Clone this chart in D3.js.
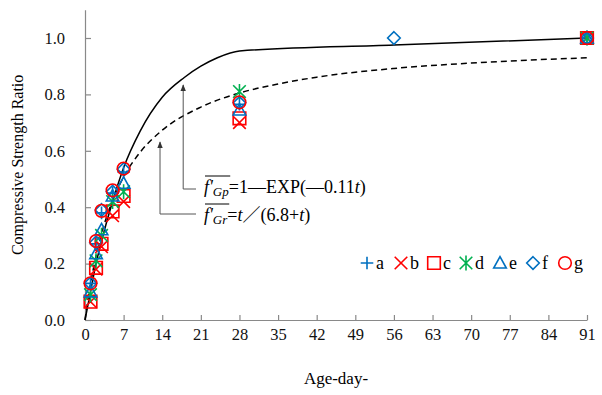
<!DOCTYPE html>
<html>
<head>
<meta charset="utf-8">
<script src="https://cdn.jsdelivr.net/npm/d3@7"></script>
<style>
  body { margin: 0; background: #fff; }
  svg { display: block; }
  svg text { font-family: "Liberation Serif", "Times New Roman", serif; }
</style>
</head>
<body>
<div id="vis"></div>
<script>
// ages (days) where the specimens were tested
const ages = [1, 2, 3, 5, 7, 28, 91]
const agesF = [1, 2, 3, 5, 7, 28, 56, 91]

// strength ratio for each mix
const seriesA = [0.13, 0.27, 0.38, 0.45, 0.525, 0.765, 1.0]
const seriesB = [0.065, 0.18, 0.26, 0.37, 0.42, 0.70, 1.0]
const seriesC = [0.065, 0.185, 0.27, 0.385, 0.44, 0.715, 1.0]
const seriesD = [0.09, 0.21, 0.30, 0.42, 0.455, 0.81, 1.0]
const seriesE = [0.10, 0.235, 0.32, 0.44, 0.485, 0.745, 1.0]
const seriesF = [0.13, 0.275, 0.39, 0.455, 0.535, 0.77, 1.0, 1.0]
const seriesG = [0.13, 0.28, 0.387, 0.46, 0.537, 0.772, 1.0]

// model curves
const gpDays = [0, 1, 2, 3, 5, 7, 10, 14, 18, 21, 24, 28, 56, 91]
const gpVals = [0, 0.10, 0.20, 0.28, 0.42, 0.54, 0.67, 0.79, 0.86, 0.90, 0.93, 0.954, 0.975, 1.0]
const grDays = [0, 1, 2, 3, 5, 7, 10, 14, 21, 28, 35, 42, 56, 70, 91]
const grVals = [0, 0.128, 0.227, 0.306, 0.424, 0.507, 0.595, 0.673, 0.755, 0.805, 0.837, 0.861, 0.892, 0.911, 0.930]

const xTicks = [0, 7, 14, 21, 28, 35, 42, 49, 56, 63, 70, 77, 84, 91]
const yTicks = [0, 0.2, 0.4, 0.6, 0.8, 1.0]
const legendNames = ['a', 'b', 'c', 'd', 'e', 'f', 'g']

const blue = '#0070C0', red = '#FF0000', green = '#00B050'
const serif = '"Liberation Serif", "Times New Roman", serif'

const series = [
  {days: ages, vals: seriesA, shape: 'plus', color: blue},
  {days: ages, vals: seriesB, shape: 'x', color: red},
  {days: ages, vals: seriesC, shape: 'square', color: red},
  {days: ages, vals: seriesD, shape: 'star', color: green},
  {days: ages, vals: seriesE, shape: 'triangle', color: blue},
  {days: agesF, vals: seriesF, shape: 'diamond', color: blue},
  {days: ages, vals: seriesG, shape: 'circle', color: red}
]

const W = 602, H = 395

const svg = d3.select('#vis').append('svg')
  .attr('width', W)
  .attr('height', H)
  .attr('font-family', serif)

const x = d3.scaleLinear().domain([0, 91]).range([85, 587])
const y = d3.scaleLinear().domain([0, 1.1]).range([320, 9.8])

// marker shapes, centred at 0,0
function shapePath(shape, s) {
  switch (shape) {
    case 'plus': return `M${-s},0H${s}M0,${-s}V${s}`
    case 'x': return `M${-s},${-s}L${s},${s}M${-s},${s}L${s},${-s}`
    case 'star': return `M${-s},${-s}L${s},${s}M${-s},${s}L${s},${-s}M0,${-s * 1.2}V${s * 1.2}`
    case 'square': return `M${-s},${-s}H${s}V${s}H${-s}Z`
    case 'triangle': return `M0,${-s}L${s},${s * 0.8}H${-s}Z`
    case 'diamond': return `M0,${-s}L${s},0L0,${s}L${-s},0Z`
    case 'circle': return d3.symbol(d3.symbolCircle, Math.PI * s * s)()
  }
}

// axes
const yAxis = d3.axisLeft(y)
  .tickValues(yTicks)
  .tickFormat(d3.format('.1f'))
  .tickSizeInner(-6)
  .tickSizeOuter(0)
  .tickPadding(20)

const xAxis = d3.axisBottom(x)
  .tickValues(xTicks)
  .tickSizeInner(-5)
  .tickSizeOuter(0)
  .tickPadding(8)

svg.append('g').attr('transform', `translate(${x(0)},0)`).call(yAxis)
svg.append('g').attr('transform', `translate(0,${y(0)})`).call(xAxis)

svg.selectAll('.domain, .tick line').attr('stroke', '#898989').attr('stroke-width', 1.2)
svg.selectAll('.tick text')
  .attr('fill', '#111')
  .attr('font-family', serif)
  .style('font-size', '16.5px')

svg.append('text')
  .attr('x', (x(0) + x(91)) / 2)
  .attr('y', 384)
  .attr('text-anchor', 'middle')
  .style('font-size', '17px')
  .text('Age-day-')

svg.append('text')
  .attr('transform', `translate(23,${y(0.55)}) rotate(-90)`)
  .attr('text-anchor', 'middle')
  .style('font-size', '16px')
  .text('Compressive Strength Ratio')

// model curves
const line = d3.line()
  .x(d => x(d[0]))
  .y(d => y(d[1]))
  .curve(d3.curveMonotoneX)

svg.append('path')
  .datum(gpDays.map((d, i) => [d, gpVals[i]]))
  .attr('d', line)
  .attr('fill', 'none')
  .attr('stroke', '#000')
  .attr('stroke-width', 1.5)

svg.append('path')
  .datum(grDays.map((d, i) => [d, grVals[i]]))
  .attr('d', line)
  .attr('fill', 'none')
  .attr('stroke', '#000')
  .attr('stroke-width', 1.5)
  .attr('stroke-dasharray', '6,4')

// data markers
series.forEach(s => {
  svg.append('g')
    .selectAll('path')
    .data(s.days.map((d, i) => [d, s.vals[i]]))
    .join('path')
    .attr('transform', d => `translate(${x(d[0])},${y(d[1])})`)
    .attr('d', shapePath(s.shape, 6.3))
    .attr('fill', 'none')
    .attr('stroke', s.color)
    .attr('stroke-width', 1.6)
})

// callouts
svg.append('defs').append('marker')
  .attr('id', 'arrow')
  .attr('viewBox', '0 0 10 10')
  .attr('refX', 9).attr('refY', 5)
  .attr('markerWidth', 7).attr('markerHeight', 7)
  .attr('orient', 'auto')
  .append('path')
  .attr('d', 'M0,1L10,5L0,9Z')
  .attr('fill', '#333')

function callout(tipDay, tipY, elbowY, endX, baseY, sub, rest) {
  svg.append('path')
    .attr('d', `M${endX},${elbowY}H${x(tipDay)}V${tipY}`)
    .attr('fill', 'none')
    .attr('stroke', '#555')
    .attr('stroke-width', 1)
    .attr('marker-end', 'url(#arrow)')

  const label = svg.append('text')
    .attr('x', endX + 8)
    .attr('y', baseY)
    .style('font-size', '18px')
  label.append('tspan').style('font-style', 'italic').text("f'")
  label.append('tspan').style('font-style', 'italic').style('font-size', '13px')
    .attr('dy', 3).text(sub)
  const bb = label.node().getBBox()
  svg.append('line')
    .attr('x1', bb.x + 1).attr('x2', bb.x + bb.width + 1)
    .attr('y1', baseY - 17).attr('y2', baseY - 17)
    .attr('stroke', '#000').attr('stroke-width', 1)

  const eq = label.append('tspan').attr('dy', -3)
  rest.forEach(part => {
    eq.append('tspan')
      .style('font-style', part.it ? 'italic' : 'normal')
      .style('font-family', part.cjk ? '"Noto Sans CJK JP", sans-serif' : null)
      .text(part.t)
  })
}

callout(17.8, 85, 189, 196, 193, 'Gp', [
  {t: '=1'}, {t: '\u2014'}, {t: 'EXP('}, {t: '\u2014'}, {t: '0.11'}, {t: 't', it: true}, {t: ')'}
])
callout(13.6, 142, 214, 196, 221, 'Gr', [
  {t: '='}, {t: 't', it: true}, {t: '／', cjk: true}, {t: '(6.8+'}, {t: 't', it: true}, {t: ')'}
])

// legend
const legendX = [367, 401, 434, 466, 500, 533, 565]
const legend = svg.append('g')
series.forEach((s, i) => {
  legend.append('path')
    .attr('transform', `translate(${legendX[i]},263)`)
    .attr('d', shapePath(s.shape, 6.3))
    .attr('fill', 'none')
    .attr('stroke', s.color)
    .attr('stroke-width', 1.6)
  legend.append('text')
    .attr('x', legendX[i] + 9)
    .attr('y', 269)
    .style('font-size', '18px')
    .text(legendNames[i])
})
</script>
</body>
</html>
